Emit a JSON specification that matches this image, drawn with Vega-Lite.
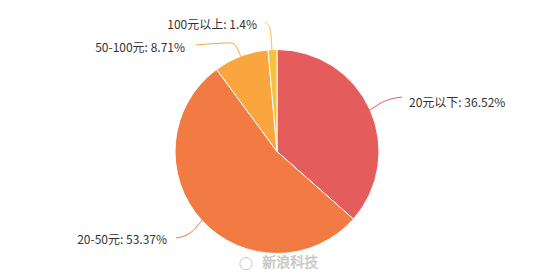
{
  "$schema": "https://vega.github.io/schema/vega-lite/v6.json",
  "width": 554,
  "height": 277,
  "padding": 0,
  "autosize": {"type": "fit", "contains": "padding"},
  "background": "#ffffff",
  "config": {"view": {"stroke": null}},
  "datasets": {
    "slices": [
      {"cat": "20元以下", "pct": 36.52, "ord": 1},
      {"cat": "20-50元", "pct": 53.37, "ord": 2},
      {"cat": "50-100元", "pct": 8.71, "ord": 3},
      {"cat": "100元以上", "pct": 1.4, "ord": 4}
    ],
    "leaders": [
      {"cat": "20元以下", "seq": 1, "x": 0.912, "y": 0.407},
      {"cat": "20元以下", "seq": 2, "x": 1.07, "y": 0.5},
      {"cat": "20元以下", "seq": 3, "x": 1.225, "y": 0.534},
      {"cat": "20-50元", "seq": 1, "x": -0.735, "y": -0.672},
      {"cat": "20-50元", "seq": 2, "x": -0.853, "y": -0.8},
      {"cat": "20-50元", "seq": 3, "x": -0.99, "y": -0.848},
      {"cat": "50-100元", "seq": 1, "x": -0.353, "y": 0.926},
      {"cat": "50-100元", "seq": 2, "x": -0.412, "y": 1.044},
      {"cat": "50-100元", "seq": 3, "x": -0.451, "y": 1.064},
      {"cat": "50-100元", "seq": 4, "x": -0.794, "y": 1.044},
      {"cat": "100元以上", "seq": 1, "x": -0.049, "y": 0.995},
      {"cat": "100元以上", "seq": 2, "x": -0.069, "y": 1.211},
      {"cat": "100元以上", "seq": 3, "x": -0.118, "y": 1.27}
    ],
    "labels": [
      {"cat": "20元以下", "text": "20元以下: 36.52%", "x": 1.294, "y": 0.475},
      {"cat": "20-50元", "text": "20-50元: 53.37%", "x": -1.078, "y": -0.868},
      {"cat": "50-100元", "text": "50-100元: 8.71%", "x": -0.902, "y": 1.015},
      {"cat": "100元以上", "text": "100元以上: 1.4%", "x": -0.196, "y": 1.24}
    ],
    "mark": [
      {"text": "新浪科技", "x": 0.13, "y": -1.093}
    ],
    "logo": [
      {"x": -0.304, "y": -1.1}
    ]
  },
  "layer": [
    {
      "data": {"name": "slices"},
      "mark": {"type": "arc", "outerRadius": 102, "stroke": "#ffffff", "strokeWidth": 1},
      "encoding": {
        "theta": {"field": "pct", "type": "quantitative", "stack": true},
        "order": {"field": "ord", "type": "quantitative"},
        "color": {
          "field": "cat", "type": "nominal", "legend": null,
          "scale": {"domain": ["20元以下", "20-50元", "50-100元", "100元以上"], "range": ["#e45c5c", "#f27b43", "#f8a63d", "#f6c23a"]}
        },
        "x": {"datum": 0, "type": "quantitative", "axis": null, "scale": {"domain": [-2.716, 2.716]}},
        "y": {"datum": 0, "type": "quantitative", "axis": null, "scale": {"domain": [-1.2304, 1.4853]}}
      }
    },
    {
      "data": {"name": "leaders"},
      "mark": {"type": "line", "interpolate": "monotone", "strokeWidth": 1},
      "encoding": {
        "x": {"field": "x", "type": "quantitative", "axis": null, "scale": {"domain": [-2.716, 2.716]}},
        "y": {"field": "y", "type": "quantitative", "axis": null, "scale": {"domain": [-1.2304, 1.4853]}},
        "color": {"field": "cat", "type": "nominal", "legend": null},
        "detail": {"field": "cat"},
        "order": {"field": "seq", "type": "quantitative"}
      }
    },
    {
      "data": {"name": "labels"},
      "transform": [{"filter": "datum.x > 0"}],
      "mark": {"type": "text", "align": "left", "baseline": "middle", "fontSize": 12, "font": "Noto Sans CJK SC", "color": "#333333"},
      "encoding": {
        "x": {"field": "x", "type": "quantitative", "axis": null, "scale": {"domain": [-2.716, 2.716]}},
        "y": {"field": "y", "type": "quantitative", "axis": null, "scale": {"domain": [-1.2304, 1.4853]}},
        "text": {"field": "text"}
      }
    },
    {
      "data": {"name": "labels"},
      "transform": [{"filter": "datum.x < 0"}],
      "mark": {"type": "text", "align": "right", "baseline": "middle", "fontSize": 12, "font": "Noto Sans CJK SC", "color": "#333333"},
      "encoding": {
        "x": {"field": "x", "type": "quantitative", "axis": null, "scale": {"domain": [-2.716, 2.716]}},
        "y": {"field": "y", "type": "quantitative", "axis": null, "scale": {"domain": [-1.2304, 1.4853]}},
        "text": {"field": "text"}
      }
    },
    {
      "data": {"name": "logo"},
      "mark": {"type": "point", "shape": "circle", "size": 150, "filled": false, "stroke": "#b0b0b0", "strokeWidth": 1},
      "encoding": {
        "x": {"field": "x", "type": "quantitative", "axis": null, "scale": {"domain": [-2.716, 2.716]}},
        "y": {"field": "y", "type": "quantitative", "axis": null, "scale": {"domain": [-1.2304, 1.4853]}}
      }
    },
    {
      "data": {"name": "mark"},
      "mark": {"type": "text", "align": "center", "baseline": "middle", "fontSize": 14, "font": "Noto Sans CJK SC", "color": "#d4d4d4", "stroke": "#bbbbbb", "strokeWidth": 0.4},
      "encoding": {
        "x": {"field": "x", "type": "quantitative", "axis": null, "scale": {"domain": [-2.716, 2.716]}},
        "y": {"field": "y", "type": "quantitative", "axis": null, "scale": {"domain": [-1.2304, 1.4853]}},
        "text": {"field": "text"}
      }
    }
  ]
}
